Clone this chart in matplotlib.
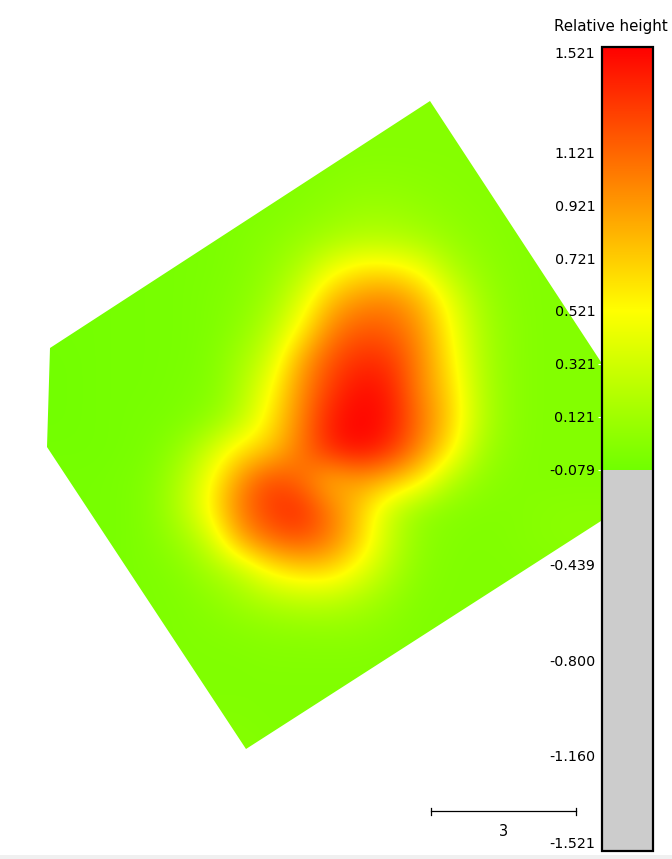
import numpy as np
import matplotlib
matplotlib.use('Agg')
import matplotlib.pyplot as plt
from matplotlib.colors import LinearSegmentedColormap, Normalize
from matplotlib.patches import Polygon, Rectangle
from matplotlib.cm import ScalarMappable

plt.rcParams['font.family'] = ['DejaVu Sans']

# height, one row every 30 px from y=90, one column every 30 px from x=30
row_090 = [-.03, -.03, -.03, -.03, -.03, -.03, -.02, -.02, -.02, -.01, -.01, .00, .00, .01, .01, .01, .01, .01, .01, .01]
row_120 = [-.04, -.04, -.04, -.04, -.03, -.03, -.02, -.02, -.02, -.01, -.01, .00, .01, .01, .01, .01, .01, .01, .01, .01]
row_150 = [-.05, -.05, -.05, -.04, -.04, -.03, -.03, -.02, -.02, -.01, .00, .01, .01, .01, .01, .01, .01, .01, .01, .01]
row_180 = [-.06, -.06, -.05, -.05, -.04, -.03, -.03, -.02, -.01, .00, .02, .04, .04, .03, .02, .01, .01, .01, .01, .01]
row_210 = [-.06, -.06, -.06, -.05, -.04, -.04, -.03, -.02, -.01, .02, .06, .10, .10, .07, .04, .02, .01, .01, .01, .01]
row_240 = [-.06, -.06, -.06, -.05, -.05, -.04, -.03, -.01, .03, .09, .16, .22, .22, .17, .09, .04, .01, .00, .00, .00]
row_270 = [-.06, -.06, -.06, -.05, -.05, -.04, -.03, .00, .07, .20, .46, .62, .62, .50, .22, .08, .02, .00, .00, .00]
row_300 = [-.06, -.06, -.06, -.05, -.05, -.04, -.02, .02, .12, .37, .78, .95, 1.00, .82, .44, .14, .03, .00, .00, .00]
row_330 = [-.07, -.06, -.06, -.05, -.05, -.04, -.02, .05, .22, .55, 1.00, 1.18, 1.15, .95, .54, .18, .04, .00, .00, .00]
row_360 = [-.07, -.07, -.06, -.05, -.05, -.04, -.01, .13, .34, .85, 1.20, 1.35, 1.32, 1.00, .60, .20, .04, .00, .00, .00]
row_390 = [-.07, -.07, -.06, -.05, -.05, -.03, .00, .17, .50, .95, 1.30, 1.48, 1.42, 1.00, .68, .22, .04, .00, .00, .00]
row_420 = [-.07, -.07, -.06, -.05, -.04, -.02, .06, .24, .60, 1.00, 1.42, 1.52, 1.45, 1.08, .72, .24, .04, .00, .00, .00]
row_450 = [-.06, -.06, -.06, -.05, -.03, .08, .32, .62, .74, 1.05, 1.38, 1.50, 1.35, 1.00, .60, .16, .03, .00, .00, .00]
row_480 = [-.05, -.05, -.05, -.04, .00, .18, .50, .95, 1.25, 1.10, .78, .90, .80, .60, .22, .06, .01, .00, .00, .00]
row_510 = [-.05, -.05, -.05, -.04, .01, .20, .55, 1.05, 1.30, 1.38, 1.05, .72, .30, .08, .02, .00, .00, .02, .03, .03]
row_540 = [-.05, -.05, -.05, -.04, .00, .10, .32, .85, 1.10, 1.20, 1.05, .70, .28, .05, .00, -.01, .00, .02, .03, .03]
row_570 = [-.04, -.04, -.04, -.03, -.02, .02, .14, .27, .55, .68, .68, .45, .20, .03, -.01, -.01, -.01, .00, .01, .01]
row_600 = [-.04, -.04, -.04, -.03, -.02, -.01, .04, .12, .20, .25, .25, .18, .08, .00, -.01, -.01, -.01, .00, .00, .00]
row_630 = [-.03, -.03, -.03, -.03, -.02, -.01, .00, .02, .04, .05, .06, .05, .02, -.01, -.01, -.01, -.01, .00, .00, .00]
row_660 = [-.03, -.03, -.03, -.03, -.02, -.01, -.01, -.01, .00, .00, .00, .00, -.01, -.01, -.01, -.01, -.01, .00, .00, .00]
row_690 = [-.02, -.02, -.02, -.02, -.02, -.01, -.01, -.01, -.01, -.01, -.01, -.01, -.01, -.01, -.01, -.01, -.01, .00, .00, .00]
row_720 = [-.02, -.02, -.02, -.02, -.01, .00, .00, .00, -.01, -.01, -.01, -.01, -.01, -.01, -.01, -.01, -.01, .00, .00, .00]
row_750 = [-.02, -.02, -.02, -.02, -.01, .01, .01, .01, .00, -.01, -.01, -.01, -.01, -.01, -.01, -.01, -.01, .00, .00, .00]

heights = [row_090, row_120, row_150, row_180, row_210, row_240, row_270, row_300,
           row_330, row_360, row_390, row_420, row_450, row_480, row_510, row_540,
           row_570, row_600, row_630, row_660, row_690, row_720, row_750]

# outline of the measured area, picture pixels
outline_x = [50, 430, 601, 601, 246, 47]
outline_y = [348, 101, 362, 521, 749, 447]

tick_values = [1.521, 1.121, 0.921, 0.721, 0.521, 0.321, 0.121, -0.079, -0.439, -0.800, -1.160, -1.521]
tick_labels = ['1.521', '1.121', '0.921', '0.721', '0.521', '0.321', '0.121', '-0.079', '-0.439', '-0.800', '-1.160', '-1.521']

lo, hi = -1.521, 1.521
cut = -0.079
pos = lambda v: (v - lo) / (hi - lo)
cmap = LinearSegmentedColormap.from_list('height', [
    (0, '#cccccc'), (pos(cut) - 0.0005, '#cccccc'), (pos(cut), '#70ff00'),
    (pos(0.521), '#ffff00'), (1, '#ff0000')], N=2048)
norm = Normalize(lo, hi)

W, H = 672, 859
fig = plt.figure(figsize=(W / 100, H / 100), dpi=100, facecolor='white')

ax = fig.add_axes([0, 0, 1, 1])
im = ax.imshow(np.array(heights), cmap=cmap, norm=norm, interpolation='bicubic',
               extent=[15, 615, 765, 75], aspect='auto')
clip = Polygon(np.column_stack([outline_x, outline_y]), transform=ax.transData)
im.set_clip_path(clip)
ax.set_xlim(0, W)
ax.set_ylim(H, 0)
ax.axis('off')

# strip along the bottom edge
ax.add_patch(Rectangle((0, 855), W, 4, color='#f0f0f0', lw=0))

# scale bar
ax.plot([431, 576], [811, 811], color='black', lw=0.9)
ax.plot([431, 431], [808, 815], color='black', lw=0.9)
ax.plot([576, 576], [808, 815], color='black', lw=0.9)
ax.text(504, 831, '3', ha='center', va='center', fontsize=10.5)

cax = fig.add_axes([601.5 / W, 1 - 851 / H, 51.5 / W, (851 - 46.5) / H])
cb = fig.colorbar(ScalarMappable(norm=norm, cmap=cmap), cax=cax)
cb.outline.set_linewidth(1.6)
cb.outline.set_edgecolor('black')
cb.ax.yaxis.set_ticks_position('left')
cb.set_ticks(tick_values, labels=tick_labels)
cb.ax.tick_params(axis='y', length=3, width=0.8, color='white', pad=1.5, labelsize=10.3)
cb.ax.minorticks_off()
labels = cb.ax.get_yticklabels()
labels[0].set_va('top')
labels[-1].set_va('bottom')

fig.text(610.5 / W, 1 - 26 / H, 'Relative height', ha='center', va='center', fontsize=10.8)

fig.savefig('out.png', dpi=100)
